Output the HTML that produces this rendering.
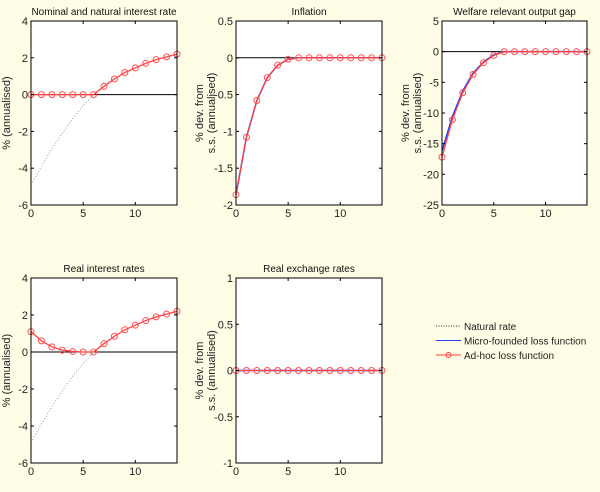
<!DOCTYPE html>
<html><head><meta charset="utf-8"><style>
body{margin:0;background:#fffde6;}
svg{display:block;font-family:"Liberation Sans",sans-serif;}
</style></head><body>
<svg id="c" width="600" height="492"></svg>
<script>
const periods=[0,1,2,3,4,5,6,7,8,9,10,11,12,13,14];
const nominalRate=[0,0,0,0,0,0,0,0.45,0.85,1.2,1.45,1.7,1.9,2.05,2.2];
const naturalRate=[-4.9,-3.9,-2.95,-2.1,-1.3,-0.6,0,0.45,0.85,1.2,1.45,1.7,1.9,2.05,2.2];
const inflationMicro=[-1.86,-1.08,-0.58,-0.27,-0.1,-0.02,0,0,0,0,0,0,0,0,0];
const inflationAdhoc=[-1.86,-1.08,-0.58,-0.27,-0.1,-0.02,0,0,0,0,0,0,0,0,0];
const gapMicro=[-16.2,-10.6,-6.4,-3.5,-1.7,-0.5,0,0,0,0,0,0,0,0,0];
const gapAdhoc=[-17.2,-11.1,-6.7,-3.7,-1.8,-0.6,0,0,0,0,0,0,0,0,0];
const realRate=[1.1,0.6,0.28,0.1,0.03,0,0,0.45,0.85,1.2,1.45,1.7,1.9,2.05,2.2];
const exchangeRate=[0,0,0,0,0,0,0,0,0,0,0,0,0,0,0];
const xTicks=[0,5,10];
const ticks1=[4,2,0,-2,-4,-6];
const ticks2=[0.5,0,-0.5,-1,-1.5,-2];
const ticks3=[5,0,-5,-10,-15,-20,-25];
const ticks5=[1,0.5,0,-0.5,-1];

const NS="http://www.w3.org/2000/svg";
const svg=document.getElementById('c');
function mk(tag,attrs,parent,text){const e=document.createElementNS(NS,tag);for(const k in attrs)e.setAttribute(k,attrs[k]);if(text!==undefined)e.textContent=text;(parent||svg).appendChild(e);return e;}

function panel(o){
  const g=mk('g',{});
  
  
  const sx=v=>o.x0+(v-0)/(14-0)*(o.x1-o.x0);
  const sy=v=>o.y1-(v-o.ymin)/(o.ymax-o.ymin)*(o.y1-o.y0);
  const bg=mk('rect',{x:o.x0,y:o.y0,width:o.x1-o.x0,height:o.y1-o.y0,fill:'#fff'},g);
  
  
  const z=mk('line',{x1:sx(0),x2:sx(14),y1:sy(0),y2:sy(0),stroke:'#000','stroke-width':1},g);
  
  
  function line(vals,color,dash,name,w){
    const p=mk('polyline',{points:vals.map((v,i)=>sx(periods[i])+','+sy(v)).join(' '),fill:'none',stroke:color,'stroke-width':w||1.2,'stroke-dasharray':dash||'none'},g);
    
    
  }
  if(o.natural) line(o.natural,'#999','1,2','natural-rate-line',1);
  if(o.micro) line(o.micro,'#1f3fff',null,'micro-founded-line',1.5);
  line(o.adhoc,'#ff4040',null,'ad-hoc-line',1.3);
  o.adhoc.forEach((v,i)=>{
    const c=mk('circle',{cx:sx(periods[i]),cy:sy(v),r:3,fill:'none',stroke:'#ff5050','stroke-width':1},g);
    
    
  });
  const fr=mk('rect',{x:o.x0,y:o.y0,width:o.x1-o.x0,height:o.y1-o.y0,fill:'none',stroke:'#000','stroke-width':1},g);
  
  
  xTicks.forEach(t=>{
    mk('line',{x1:sx(t),x2:sx(t),y1:o.y1,y2:o.y1-3,stroke:'#000'},g);
    mk('line',{x1:sx(t),x2:sx(t),y1:o.y0,y2:o.y0+3,stroke:'#000'},g);
    const tx=mk('text',{x:sx(t),y:o.y1+12,'font-size':11,'text-anchor':'middle',fill:'#222'},g,String(t));
    
    
  });
  o.ticks.forEach(t=>{
    mk('line',{x1:o.x0,x2:o.x0+3,y1:sy(t),y2:sy(t),stroke:'#000'},g);
    mk('line',{x1:o.x1,x2:o.x1-3,y1:sy(t),y2:sy(t),stroke:'#000'},g);
    const tx=mk('text',{x:o.x0-3,y:sy(t)+4,'font-size':11,'text-anchor':'end',fill:'#222'},g,String(t));
    
    
  });
  const ti=mk('text',{x:(o.x0+o.x1)/2,y:o.y0-6,'font-size':10,'text-anchor':'middle',fill:'#111'},g,o.title);
  
  
  const cy=(o.y0+o.y1)/2;
  o.ylab.forEach((s,k)=>{
    const xx=o.x0-(o.ylab.length==2?(k==0?33:21):21);
    const yl=mk('text',{x:xx,y:cy,'font-size':11,'text-anchor':'middle',fill:'#222',transform:`rotate(-90 ${xx} ${cy})`},g,s);
    
    
  });
}
const L1=['% (annualised)'], L2=['% dev. from','s.s. (annualised)'];
panel({name:'nominal-rate-panel',title:'Nominal and natural interest rate',x0:31,x1:177,y0:21,y1:205,ymin:-6,ymax:4,ticks:ticks1,ylab:L1,natural:naturalRate,adhoc:nominalRate});
panel({name:'inflation-panel',title:'Inflation',x0:236,x1:382,y0:21,y1:205,ymin:-2,ymax:0.5,ticks:ticks2,ylab:L2,micro:inflationMicro,adhoc:inflationAdhoc});
panel({name:'output-gap-panel',title:'Welfare relevant output gap',x0:442,x1:587,y0:21,y1:205,ymin:-25,ymax:5,ticks:ticks3,ylab:L2,micro:gapMicro,adhoc:gapAdhoc});
panel({name:'real-rate-panel',title:'Real interest rates',x0:31,x1:177,y0:278,y1:463,ymin:-6,ymax:4,ticks:ticks1,ylab:L1,natural:naturalRate,adhoc:realRate});
panel({name:'exchange-rate-panel',title:'Real exchange rates',x0:236,x1:382,y0:278,y1:463,ymin:-1,ymax:1,ticks:ticks5,ylab:L2,micro:exchangeRate,adhoc:exchangeRate});

const lg=mk('g',{});


const ents=[['Natural rate','#333','1,1.5',false],['Micro-founded loss function','#1f3fff','none',false],['Ad-hoc loss function','#ff4040','none',true]];
ents.forEach((e,i)=>{
  const y=326+i*14.5;
  const eg=mk('g',{},lg);
  
  
  mk('line',{x1:436,x2:461,y1:y,y2:y,stroke:e[1],'stroke-width':1,'stroke-dasharray':e[2]},eg);
  if(e[3]) mk('circle',{cx:448.5,cy:y,r:2.5,fill:'none',stroke:e[1]},eg);
  mk('text',{x:464,y:y+4,'font-size':10,fill:'#222'},eg,e[0]);
});
</script>
</body></html>
